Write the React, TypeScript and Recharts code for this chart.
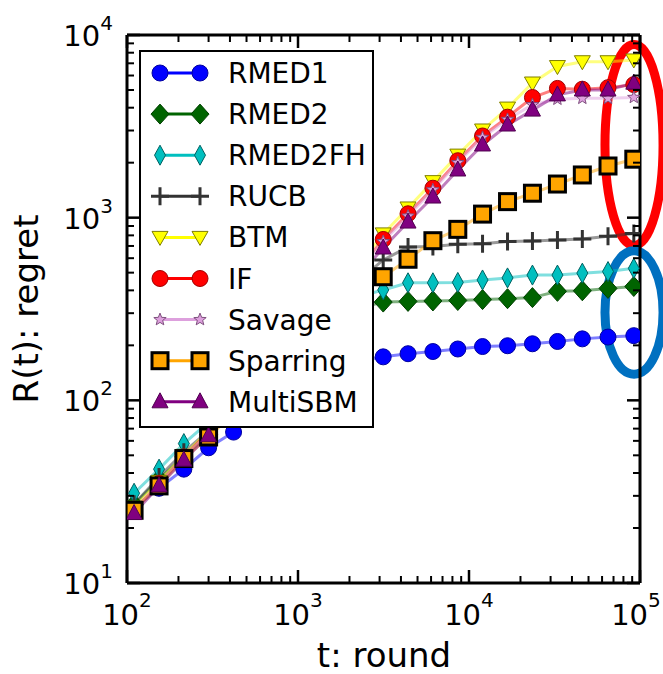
import React from 'react'
import { LineChart, Line, XAxis, YAxis, Legend, ReferenceArea } from 'recharts'

const FONT = '"DejaVu Sans", sans-serif'

// t: round (x) values
const rounds = [110, 154, 215, 300, 420, 590, 825, 1150, 1610, 2250, 3150, 4400, 6150, 8600, 12000, 16800, 23500, 32900, 46000, 65000, 92000]

// R(t): regret for each algorithm
const rmed1 = [26, 33, 42, 55, 67, 88, 112, 135, 152, 164, 173, 180, 185, 191, 197, 199, 204, 210, 217, 222, 226]
const rmed2 = [27, 37, 49, 65, 88, 120, 165, 220, 280, 320, 345, 348, 350, 352, 356, 360, 365, 395, 398, 410, 420]
const rmed2fh = [31, 42, 58, 76, 100, 135, 185, 245, 315, 370, 402, 440, 440, 442, 456, 468, 485, 485, 497, 507, 528]
const rucb = [27, 38, 52, 68, 92, 125, 175, 240, 330, 450, 587, 690, 695, 715, 720, 740, 745, 755, 765, 790, 820]
const btm = [26, 36, 50, 68, 95, 135, 190, 270, 380, 545, 815, 1130, 1575, 2200, 3020, 3980, 5460, 6720, 7140, 7140, 7300]
const ifAlg = [25, 35, 49, 67, 93, 130, 183, 260, 365, 520, 760, 1050, 1450, 2050, 2800, 3550, 4550, 5100, 5050, 5150, 5350]
const savage = [25, 35, 49, 66, 92, 128, 180, 255, 358, 510, 740, 1020, 1420, 2000, 2750, 3450, 4150, 4450, 4500, 4500, 4550]
const sparring = [25, 34, 48, 63, 85, 115, 155, 210, 280, 370, 475, 592, 748, 863, 1046, 1224, 1361, 1528, 1713, 1918, 2090]
const multisbm = [24, 34, 47, 64, 88, 125, 175, 245, 340, 480, 682, 946, 1297, 1824, 2500, 3215, 3880, 4700, 5000, 5000, 5450]

// ticks
const xTicks = [100, 200, 300, 400, 500, 600, 700, 800, 900, 1000, 2000, 3000, 4000, 5000, 6000, 7000, 8000, 9000, 10000, 20000, 30000, 40000, 50000, 60000, 70000, 80000, 90000, 100000]
const yTicks = [10, 20, 30, 40, 50, 60, 70, 80, 90, 100, 200, 300, 400, 500, 600, 700, 800, 900, 1000, 2000, 3000, 4000, 5000, 6000, 7000, 8000, 9000, 10000]
const xMajor = [100, 1000, 10000, 100000]
const yMajor = [10, 100, 1000, 10000]

// highlight ellipses (data coords)
const redEllipse = { x: [62400, 136400], y: [8870, 705] }
const blueEllipse = { x: [62400, 136400], y: [658, 139] }

const SERIES = [
  { key: 'RMED1', values: rmed1, color: '#0000ff', edge: '#0000a0', marker: 'circle' },
  { key: 'RMED2', values: rmed2, color: '#006400', edge: '#004000', marker: 'diamond' },
  { key: 'RMED2FH', values: rmed2fh, color: '#00bfbf', edge: '#006060', marker: 'thin' },
  { key: 'RUCB', values: rucb, color: '#333333', edge: '#333333', marker: 'plus' },
  { key: 'BTM', values: btm, color: '#ffff00', edge: '#7f7f00', marker: 'tridown' },
  { key: 'IF', values: ifAlg, color: '#ff0000', edge: '#a00000', marker: 'circle' },
  { key: 'Savage', values: savage, color: '#dda0dd', edge: '#7f507f', marker: 'star' },
  { key: 'Sparring', values: sparring, color: '#ffa500', edge: '#000000', marker: 'square' },
  { key: 'MultiSBM', values: multisbm, color: '#800080', edge: '#500050', marker: 'triup' },
]

const data = rounds.map((t, i) => {
  const row: any = { t }
  SERIES.forEach((s) => { row[s.key] = s.values[i] })
  return row
})

function Marker({ kind, cx, cy, fill, edge }: any) {
  switch (kind) {
    case 'circle':
      return <circle cx={cx} cy={cy} r={8} fill={fill} stroke={edge} strokeWidth={1} />
    case 'diamond':
      return <polygon points={`${cx},${cy - 10} ${cx + 9},${cy} ${cx},${cy + 10} ${cx - 9},${cy}`} fill={fill} stroke={edge} strokeWidth={1} />
    case 'thin':
      return <polygon points={`${cx},${cy - 10} ${cx + 5.5},${cy} ${cx},${cy + 10} ${cx - 5.5},${cy}`} fill={fill} stroke={edge} strokeWidth={1} />
    case 'plus':
      return <path d={`M${cx - 9},${cy}H${cx + 9}M${cx},${cy - 9}V${cy + 9}`} stroke={fill} strokeWidth={3} />
    case 'tridown':
      return <polygon points={`${cx - 8},${cy - 6} ${cx + 8},${cy - 6} ${cx},${cy + 8}`} fill={fill} stroke={edge} strokeWidth={1} />
    case 'triup':
      return <polygon points={`${cx},${cy - 9} ${cx + 8},${cy + 6} ${cx - 8},${cy + 6}`} fill={fill} stroke={edge} strokeWidth={1} />
    case 'square':
      return <rect x={cx - 8} y={cy - 8} width={16} height={16} fill={fill} stroke={edge} strokeWidth={3} />
    case 'star': {
      const pts: string[] = []
      for (let i = 0; i < 10; i++) {
        const r = i % 2 === 0 ? 6.5 : 2.8
        const a = -Math.PI / 2 + (i * Math.PI) / 5
        pts.push(`${cx + r * Math.cos(a)},${cy + r * Math.sin(a)}`)
      }
      return <polygon points={pts.join(' ')} fill={fill} stroke={edge} strokeWidth={1} />
    }
    default:
      return null
  }
}

function expOf(v: number) {
  return Math.round(Math.log10(v))
}

function BottomTick({ x, y, payload }: any) {
  const major = xMajor.includes(payload.value)
  // keep the last label inside the picture
  const shift = payload.value === 100000 ? -4 : 0
  return (
    <g>
      <line x1={x} x2={x} y1={y} y2={y - (major ? 13 : 7)} stroke="#000" strokeWidth={major ? 2.5 : 2} />
      {major && (
        <text x={x + shift} y={y + 42} textAnchor="middle" fontFamily={FONT} fontSize={29} fill="#000">
          10<tspan dy={-18} fontSize={20}>{expOf(payload.value)}</tspan>
        </text>
      )}
    </g>
  )
}

function TopTick({ x, y, payload }: any) {
  const major = xMajor.includes(payload.value)
  return <line x1={x} x2={x} y1={y} y2={y + (major ? 13 : 7)} stroke="#000" strokeWidth={major ? 2.5 : 2} />
}

function LeftTick({ x, y, payload }: any) {
  const major = yMajor.includes(payload.value)
  return (
    <g>
      <line x1={x} x2={x + (major ? 13 : 7)} y1={y} y2={y} stroke="#000" strokeWidth={major ? 2.5 : 2} />
      {major && (
        <text x={x - 14} y={y + 11} textAnchor="end" fontFamily={FONT} fontSize={29} fill="#000">
          10<tspan dy={-16} fontSize={20}>{expOf(payload.value)}</tspan>
        </text>
      )}
    </g>
  )
}

function RightTick({ x, y, payload }: any) {
  const major = yMajor.includes(payload.value)
  return <line x1={x} x2={x - (major ? 13 : 7)} y1={y} y2={y} stroke="#000" strokeWidth={major ? 2.5 : 2} />
}

function LegendBox() {
  return (
    <div style={{ width: 235, height: 378, border: '2.5px solid #000', background: '#fff', boxSizing: 'border-box' }}>
      <svg width={230} height={373} style={{ display: 'block' }}>
        {SERIES.map((s, i) => {
          const cy = 21 + i * 41.1
          return (
            <g key={s.key}>
              <line x1={19} x2={59} y1={cy} y2={cy} stroke={s.color} strokeWidth={3} />
              <Marker kind={s.marker} cx={19} cy={cy} fill={s.color} edge={s.edge} />
              <Marker kind={s.marker} cx={59} cy={cy} fill={s.color} edge={s.edge} />
              <text x={87} y={cy + 10} fontFamily={FONT} fontSize={28} fill="#000">{s.key}</text>
            </g>
          )
        })}
      </svg>
    </div>
  )
}

function ellipseShape(color: string) {
  return (p: any) => (
    <ellipse
      cx={p.x + p.width / 2}
      cy={p.y + p.height / 2}
      rx={Math.abs(p.width) / 2}
      ry={Math.abs(p.height) / 2}
      fill="none"
      stroke={color}
      strokeWidth={9}
    />
  )
}

export default function App() {
  return (
    <div style={{ position: 'absolute', left: 0, top: 0, width: 663, height: 674, background: '#fff' }}>
      <LineChart width={663} height={674} data={data} margin={{ top: 34, right: 22, bottom: 90, left: 126 }}>
        <XAxis xAxisId="b" dataKey="t" type="number" scale="log" domain={[100, 100000]} allowDataOverflow
          ticks={xTicks} interval={0} height={1} tickSize={0} tickMargin={0} tickLine={false}
          axisLine={{ stroke: '#000', strokeWidth: 3 }} tick={<BottomTick />} />
        <XAxis xAxisId="top" orientation="top" dataKey="t" type="number" scale="log" domain={[100, 100000]} allowDataOverflow
          ticks={xTicks} interval={0} height={1} tickSize={0} tickMargin={0} tickLine={false}
          axisLine={{ stroke: '#000', strokeWidth: 3 }} tick={<TopTick />} />
        <YAxis yAxisId="l" type="number" scale="log" domain={[10, 10000]} allowDataOverflow
          ticks={yTicks} interval={0} width={1} tickSize={0} tickMargin={0} tickLine={false}
          axisLine={{ stroke: '#000', strokeWidth: 3 }} tick={<LeftTick />} />
        <YAxis yAxisId="r" orientation="right" type="number" scale="log" domain={[10, 10000]} allowDataOverflow
          ticks={yTicks} interval={0} width={1} tickSize={0} tickMargin={0} tickLine={false}
          axisLine={{ stroke: '#000', strokeWidth: 3 }} tick={<RightTick />} />
        {SERIES.map((s) => (
          <Line
            key={s.key}
            xAxisId="b"
            yAxisId="l"
            dataKey={s.key}
            stroke={s.color}
            strokeOpacity={0.5}
            strokeWidth={3}
            isAnimationActive={false}
            activeDot={false}
            dot={(p: any) => (
              <g key={`${s.key}-${p.index}`}>
                <Marker kind={s.marker} cx={p.cx} cy={p.cy} fill={s.color} edge={s.edge} />
              </g>
            )}
          />
        ))}
        <ReferenceArea xAxisId="b" yAxisId="l" x1={redEllipse.x[0]} x2={redEllipse.x[1]} y1={redEllipse.y[0]} y2={redEllipse.y[1]}
          ifOverflow="visible" shape={ellipseShape('#ff0000')} />
        <ReferenceArea xAxisId="b" yAxisId="l" x1={blueEllipse.x[0]} x2={blueEllipse.x[1]} y1={blueEllipse.y[0]} y2={blueEllipse.y[1]}
          ifOverflow="visible" shape={ellipseShape('#0070c0')} />
        <Legend layout="vertical" align="center" verticalAlign="middle"
          wrapperStyle={{ left: 139, top: 50, width: 235, height: 378 }} content={() => <LegendBox />} />
      </LineChart>
      <svg width={663} height={674} style={{ position: 'absolute', left: 0, top: 0, pointerEvents: 'none' }}>
        <text x={384} y={667} textAnchor="middle" fontFamily={FONT} fontSize={34} fill="#000">t: round</text>
        <text x={38} y={309} textAnchor="middle" fontFamily={FONT} fontSize={34} fill="#000" transform="rotate(-90, 38, 309)">R(t): regret</text>
      </svg>
    </div>
  )
}
